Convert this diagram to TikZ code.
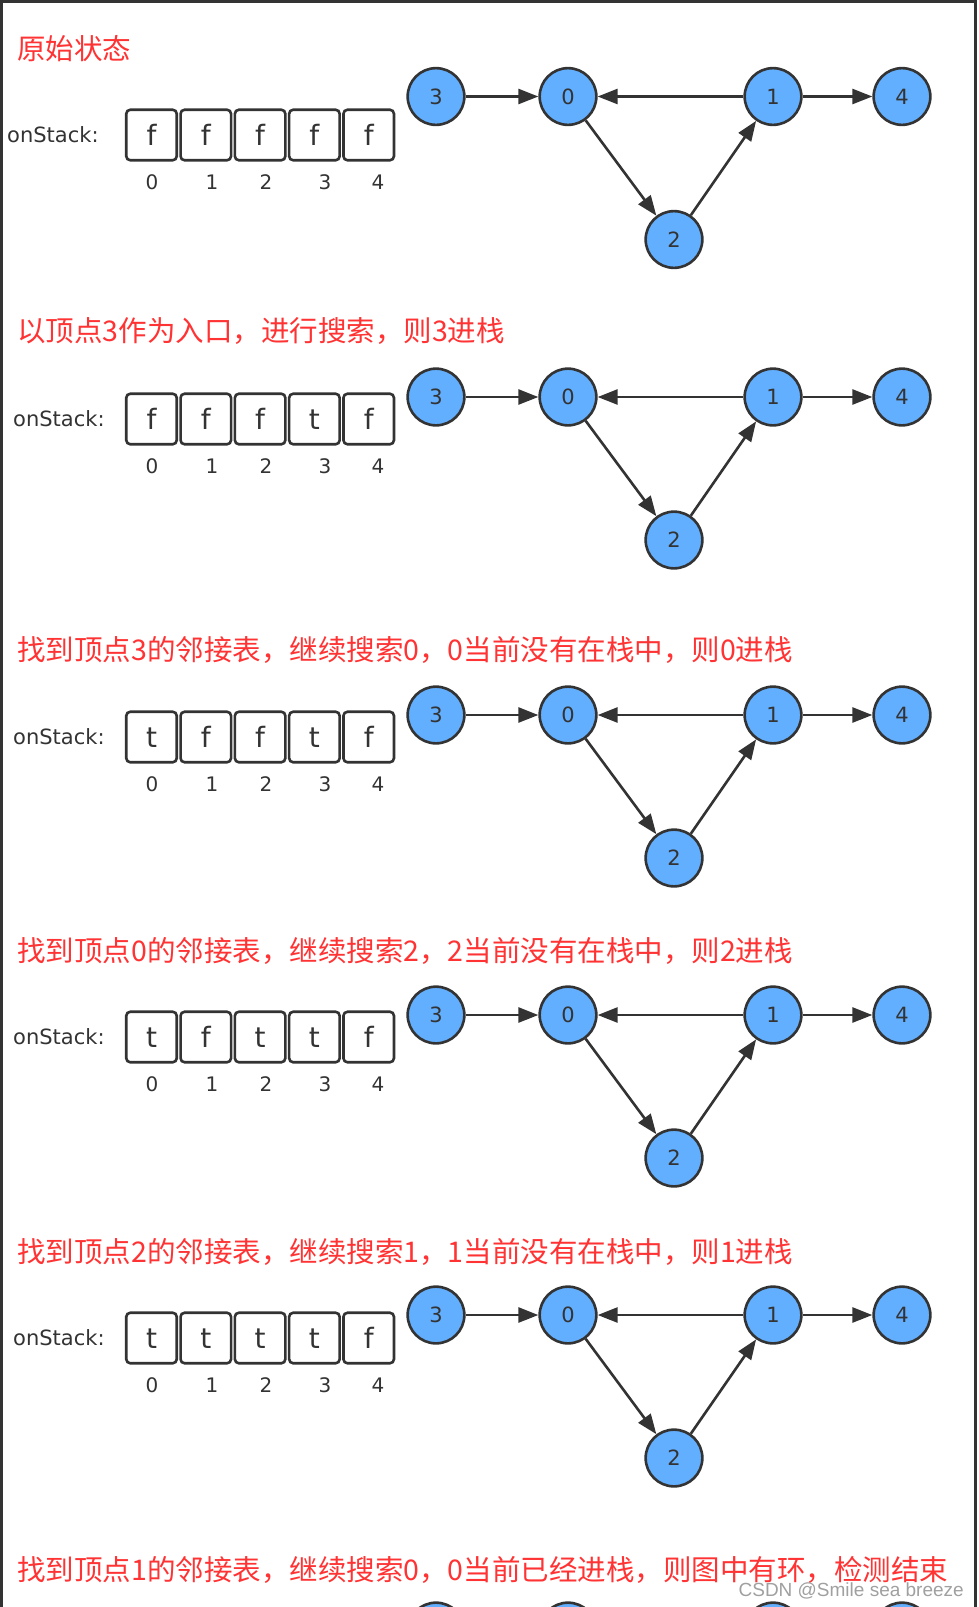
\documentclass[tikz,border=0pt]{standalone}
\usepackage{fontspec}
\setmainfont{DejaVu Sans}
\newfontfamily\cjk{Noto Sans CJK SC}
\newfontfamily\wmfont{Liberation Sans}
\usetikzlibrary{arrows.meta}
\definecolor{nodeblue}{HTML}{62AFFF}
\definecolor{dk}{HTML}{333333}
\definecolor{titlered}{HTML}{FF3333}
\definecolor{wmgray}{HTML}{A0A0A0}
\tikzset{
 vert/.style={circle,draw=dk,fill=nodeblue,line width=2.6pt,minimum size=56.7pt,inner sep=0pt,text=dk,font=\fontsize{21}{21}\selectfont},
 cell/.style={draw=dk,rounded corners=4pt,line width=2.6pt,minimum width=50.5pt,minimum height=50.5pt,inner sep=0pt,text=dk,text height=21pt,text depth=0pt,font=\fontsize{28}{28}\selectfont},
 idx/.style={text=dk,font=\fontsize{20}{20}\selectfont,inner sep=0pt},
 lbl/.style={text=dk,font=\fontsize{21}{21}\selectfont,anchor=west,inner sep=0pt},
 ttl/.style={text=titlered,font=\cjk\fontsize{28.5}{28.5}\selectfont,anchor=west,inner sep=0pt},
 edge/.style={draw=dk,line width=2.6pt,-{Triangle[length=20pt,width=15pt]}},
}
\newcommand\drawpanel[7]{%
  \node[ttl] (t#1) at (17,#2) {#6};
  \node[lbl] (s#1) at (#5,#4) {onStack:};
  \foreach \v [count=\i from 0] in {#7} {
    \node[cell] (c#1\i) at (151.5+54.3*\i,#4) {\v};
  }
  \foreach \x [count=\i from 0] in {152,212,266,325,378} {
    \node[idx] (i#1\i) at (\x,#4+47) {\i};
  }
  \node[vert] (n#1v3) at (436,#3) {3};
  \node[vert] (n#1v0) at (568,#3) {0};
  \node[vert] (n#1v1) at (773,#3) {1};
  \node[vert] (n#1v4) at (902,#3) {4};
  \node[vert] (n#1v2) at (674,#3+143) {2};
  \draw[edge] (n#1v3) -- (n#1v0);
  \draw[edge] (n#1v1) -- (n#1v0);
  \draw[edge] (n#1v1) -- (n#1v4);
  \draw[edge] (n#1v0) -- (n#1v2);
  \draw[edge] (n#1v2) -- (n#1v1);
}
\begin{document}
\begin{tikzpicture}[x=1pt,y=-1pt]
\useasboundingbox (0,0) rectangle (978,1607);
\clip (0,0) rectangle (978,1607);
\fill[white] (0,0) rectangle (978,1607);
\draw[dk,line width=3pt] (1.5,1620) -- (1.5,1.5) -- (975.5,1.5) -- (975.5,1620);
\drawpanel{a}{49}{96.5}{135}{7}{原始状态}{f,f,f,f,f}
\drawpanel{b}{331}{397}{419}{13}{以顶点3作为入口，进行搜索，则3进栈}{f,f,f,t,f}
\drawpanel{c}{650}{715}{737}{13}{找到顶点3的邻接表，继续搜索0，0当前没有在栈中，则0进栈}{t,f,f,t,f}
\drawpanel{d}{951}{1015}{1037}{13}{找到顶点0的邻接表，继续搜索2，2当前没有在栈中，则2进栈}{t,f,t,t,f}
\drawpanel{e}{1252}{1315}{1338}{13}{找到顶点2的邻接表，继续搜索1，1当前没有在栈中，则1进栈}{t,t,t,t,f}
\node[ttl] (tf) at (17,1570) {找到顶点1的邻接表，继续搜索0，0当前已经进栈，则图中有环，检测结束};
\node[vert] (nfv3) at (436,1631) {};
\node[vert] (nfv0) at (568,1631) {};
\node[vert] (nfv1) at (773,1631) {};
\node[vert] (nfv4) at (902,1631) {};
\node[text=wmgray,font=\wmfont\fontsize{19}{19}\selectfont,anchor=east,inner sep=0pt] (wm) at (964,1591) {CSDN @Smile sea breeze};
\end{tikzpicture}
\end{document}
